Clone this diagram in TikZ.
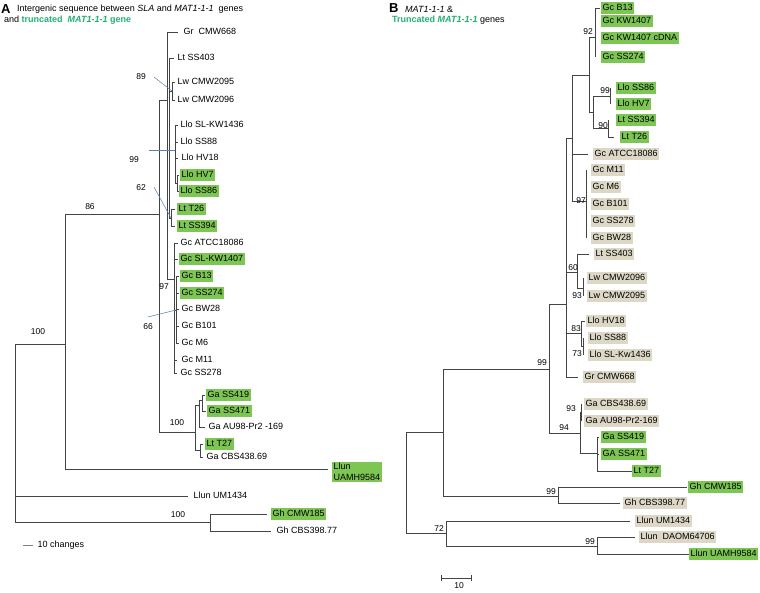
\documentclass[tikz,border=0pt]{standalone}
\usepackage{fontspec}
\setmainfont{Liberation Sans}
\definecolor{boxg}{HTML}{7DC653}
\definecolor{boxb}{HTML}{DDD8C6}
\definecolor{tgreen}{HTML}{22B070}
\definecolor{lnc}{HTML}{444444}
\definecolor{bluel}{HTML}{5582B8}
\tikzset{
 br/.style={draw=lnc, line width=0.65pt},
 lab/.style={anchor=west, inner xsep=1.5pt, inner ysep=1.4pt, font=\fontsize{9}{10}\selectfont, text height=6.6pt, text depth=1.8pt},
 gbox/.style={lab, fill=boxg},
 bbox/.style={lab, fill=boxb},
 bsv/.style={font=\fontsize{8.5}{9}\selectfont, inner sep=0pt},
 ptr/.style={draw=bluel, line width=0.5pt},
}
\newcommand{\tleaf}[6]{\coordinate (#1-t) at (#2,#3); \node[#6] (#1) at (#4,#3) {#5};}
\begin{document}
\begin{tikzpicture}[x=1pt,y=-1pt]
\useasboundingbox (0,0) rectangle (760,592);
% ---------------- titles
\node[anchor=west, inner sep=0pt, font=\fontsize{13}{13}\selectfont\bfseries] (tA) at (1,9) {A};
\node[anchor=west, inner sep=0pt, font=\fontsize{9}{10}\selectfont] (tA1) at (17,9) {Intergenic sequence between \textit{SLA} and \textit{MAT1-1-1}~ genes};
\node[anchor=west, inner sep=0pt, font=\fontsize{9}{10}\selectfont] (tA2) at (4,20) {and \textcolor{tgreen}{\bfseries truncated~ \textit{MAT1-1-1} gene}};
\node[anchor=west, inner sep=0pt, font=\fontsize{13}{13}\selectfont\bfseries] (tB) at (389,8) {B};
\node[anchor=west, inner sep=0pt, font=\fontsize{9}{10}\selectfont] (tB1) at (405,9) {\textit{MAT1-1-1} \&};
\node[anchor=west, inner sep=0pt, font=\fontsize{9}{10}\selectfont] (tB2) at (392,20) {\textcolor{tgreen}{\bfseries Truncated \textit{MAT1-1-1}} genes};
% ---------------- panel A internal nodes
\coordinate (rA) at (15,433);
\coordinate (a86) at (65,344);
\coordinate (aIn) at (159,214);
\coordinate (aTop) at (167,100);
\coordinate (aL) at (169,150);
\coordinate (aLw) at (172,91);
\coordinate (aLlo) at (175,150);
\coordinate (aLlo2) at (177,183);
\coordinate (aLt) at (171,218);
\coordinate (aG) at (174,279);
\coordinate (aG2) at (176,310);
\coordinate (aGa) at (195,432);
\coordinate (ag1) at (199,405);
\coordinate (ag2) at (202,400);
\coordinate (ag3) at (200,450);
\coordinate (aGh) at (210,522);
% panel A leaves
\tleaf{AGr}{178}{32}{182}{Gr~ CMW668}{lab}
\tleaf{ALt403}{174}{58}{176}{Lt SS403}{lab}
\tleaf{ALw95}{175}{82}{176}{Lw CMW2095}{lab}
\tleaf{ALw96}{175}{100}{176}{Lw CMW2096}{lab}
\tleaf{ALlo36}{178}{125}{179}{Llo SL-KW1436}{lab}
\tleaf{ALlo88}{178}{142}{179}{Llo SS88}{lab}
\tleaf{ALlo18}{178}{158}{180}{Llo HV18}{lab}
\tleaf{ALlo7}{179}{175}{180}{Llo HV7}{gbox}
\tleaf{ALlo86}{179}{191}{179}{Llo SS86}{gbox}
\tleaf{ALt26}{175}{209}{177}{Lt T26}{gbox}
\tleaf{ALt394}{175}{226}{177}{Lt SS394}{gbox}
\tleaf{AGcA}{178}{243}{179}{Gc ATCC18086}{lab}
\tleaf{AGcKW}{178}{259}{179}{Gc SL-KW1407}{gbox}
\tleaf{AGcB13}{179}{276}{180}{Gc B13}{gbox}
\tleaf{AGc274}{179}{293}{180}{Gc SS274}{gbox}
\tleaf{AGcBW}{179}{309}{180}{Gc BW28}{lab}
\tleaf{AGc101}{179}{326}{180}{Gc B101}{lab}
\tleaf{AGcM6}{179}{343}{180}{Gc M6}{lab}
\tleaf{AGcM11}{177}{360}{180}{Gc M11}{lab}
\tleaf{AGc278}{177}{373}{179}{Gc SS278}{lab}
\tleaf{AGa419}{205}{395}{206}{Ga SS419}{gbox}
\tleaf{AGa471}{206}{411}{207}{Ga SS471}{gbox}
\tleaf{AGaAU}{205}{427}{207}{Ga AU98-Pr2 -169}{lab}
\tleaf{ALtT27}{203}{444}{205}{Lt T27}{gbox}
\tleaf{AGaCBS}{203}{457}{205}{Ga CBS438.69}{lab}
\coordinate (AUAMH-t) at (328,469);
\node[anchor=west, fill=boxg, align=left, inner xsep=1.5pt, inner ysep=1.5pt, font=\fontsize{9}{11}\selectfont] (AUAMH) at (332,472) {Llun\\UAMH9584};
\tleaf{AUM}{188}{496}{192}{Llun UM1434}{lab}
\tleaf{AGh185}{267}{514}{271}{Gh CMW185}{gbox}
\tleaf{AGh398}{271}{531}{275}{Gh CBS398.77}{lab}
% panel A edges
\foreach \p/\c in {rA/a86, rA/AUM-t, rA/aGh, a86/aIn, a86/AUAMH-t, aIn/aTop, aIn/aGa,
  aTop/AGr-t, aTop/aL, aTop/aG, aL/ALt403-t, aL/aLw, aL/aLlo, aL/aLt,
  aLw/ALw95-t, aLw/ALw96-t, aLlo/ALlo36-t, aLlo/ALlo88-t, aLlo/ALlo18-t, aLlo/aLlo2,
  aLlo2/ALlo7-t, aLlo2/ALlo86-t, aLt/ALt26-t, aLt/ALt394-t,
  aG/AGcA-t, aG/AGcKW-t, aG/aG2, aG/AGcM11-t, aG/AGc278-t,
  aG2/AGcB13-t, aG2/AGc274-t, aG2/AGcBW-t, aG2/AGc101-t, aG2/AGcM6-t,
  aGa/ag1, aGa/ag3, ag1/ag2, ag1/AGaAU-t, ag2/AGa419-t, ag2/AGa471-t,
  ag3/ALtT27-t, ag3/AGaCBS-t, aGh/AGh185-t, aGh/AGh398-t}
  \draw[br] (\p) |- (\c);
% panel A bootstrap values
\node[bsv] (bsA100r) at (38,332) {100};
\node[bsv] (bsA86) at (90,207) {86};
\node[bsv] (bsA89) at (141,77) {89};
\node[bsv] (bsA99) at (134,160) {99};
\node[bsv] (bsA62) at (141,188) {62};
\node[bsv] (bsA97) at (164,287) {97};
\node[bsv] (bsA66) at (148,327) {66};
\node[bsv] (bsA100g) at (177,423) {100};
\node[bsv] (bsA100h) at (178,515) {100};
\draw[ptr] (bsA89) ++(13,0) -- (aLw);
\draw[ptr] (bsA99) ++(15,-10) -- (aLlo);
\draw[ptr] (bsA62) ++(13,-1) -- (aLt);
\draw[ptr] (bsA66) ++(0,-10) -- (aG2);
% scale A
\coordinate (sA1) at (23,545);
\coordinate (sA2) at (33,545);
\draw[draw=gray, line width=1pt] (sA1) -- (sA2);
\node[lab] (sAt) at (36,545) {10 changes};
% ---------------- panel B internal nodes
\coordinate (rB) at (406,482);
\coordinate (bU) at (443,432);
\coordinate (b72) at (446,533);
\coordinate (b99) at (549,369);
\coordinate (bGh) at (558,496);
\coordinate (bQ) at (566,304);
\coordinate (b94) at (580,433);
\coordinate (bP) at (572,138);
\coordinate (b60) at (577,272);
\coordinate (b83) at (581,333);
\coordinate (b89) at (589,75);
\coordinate (b97) at (586,201);
\coordinate (b92) at (595,37);
\coordinate (bLL) at (593,112);
\coordinate (b99L) at (610,96);
\coordinate (b90) at (608,128);
\coordinate (bLw) at (583,288);
\coordinate (b73) at (583,346);
\coordinate (b93) at (581,412);
\coordinate (bGa) at (597,453);
\coordinate (b99U) at (597,546);
% panel B leaves
\tleaf{BB13}{600}{8}{601}{Gc B13}{gbox}
\tleaf{BKW}{595}{21}{601}{Gc KW1407}{gbox}
\tleaf{BKWc}{595}{38}{601}{Gc KW1407 cDNA}{gbox}
\tleaf{B274}{595}{57}{601}{Gc SS274}{gbox}
\tleaf{BSS86}{610}{88}{616}{Llo SS86}{gbox}
\tleaf{BHV7}{610}{104}{616}{Llo HV7}{gbox}
\tleaf{BLt394}{608}{120}{616}{Lt SS394}{gbox}
\tleaf{BLtT26}{614}{137}{620}{Lt T26}{gbox}
\tleaf{BATCC}{588}{154}{593}{Gc ATCC18086}{bbox}
\tleaf{BM11}{586}{170}{591}{Gc M11}{bbox}
\tleaf{BM6}{586}{187}{591}{Gc M6}{bbox}
\tleaf{BB101}{586}{204}{591}{Gc B101}{bbox}
\tleaf{B278}{586}{221}{591}{Gc SS278}{bbox}
\tleaf{BBW}{586}{238}{591}{Gc BW28}{bbox}
\tleaf{BLt403}{589}{254}{594}{Lt SS403}{bbox}
\tleaf{BLw96}{583}{278}{587}{Lw CMW2096}{bbox}
\tleaf{BLw95}{583}{296}{587}{Lw CMW2095}{bbox}
\tleaf{BHV18}{585}{321}{586}{Llo HV18}{bbox}
\tleaf{BSS88}{583}{338}{588}{Llo SS88}{bbox}
\tleaf{BSL}{583}{355}{588}{Llo SL-Kw1436}{bbox}
\tleaf{BGr}{578}{377}{583}{Gr CMW668}{bbox}
\tleaf{BCBS}{581}{404}{584}{Ga CBS438.69}{bbox}
\tleaf{BAU}{581}{421}{584}{Ga AU98-Pr2-169}{bbox}
\tleaf{B419}{599}{437}{601}{Ga SS419}{gbox}
\tleaf{B471}{599}{454}{601}{GA SS471}{gbox}
\tleaf{BT27}{632}{471}{632}{Lt T27}{gbox}
\tleaf{BGh185}{687}{487}{688}{Gh CMW185}{gbox}
\tleaf{BGh398}{620}{503}{623}{Gh CBS398.77}{bbox}
\tleaf{BUM}{630}{521}{635}{Llun UM1434}{bbox}
\tleaf{BDAOM}{635}{537}{639}{Llun~ DAOM64706}{bbox}
\tleaf{BUAMH}{689}{554}{689}{Llun UAMH9584}{gbox}
% panel B edges
\foreach \p/\c in {rB/bU, rB/b72, bU/b99, bU/bGh, b99/bQ, b99/b94,
  bQ/bP, bQ/b60, bQ/b83, bQ/BGr-t, bP/b89, bP/BATCC-t, bP/b97,
  b89/b92, b89/bLL, b92/BB13-t, b92/BKW-t, b92/BKWc-t, b92/B274-t,
  bLL/b99L, bLL/b90, b99L/BSS86-t, b99L/BHV7-t, b90/BLt394-t, b90/BLtT26-t,
  b97/BM11-t, b97/BM6-t, b97/BB101-t, b97/B278-t, b97/BBW-t,
  b60/BLt403-t, b60/bLw, bLw/BLw96-t, bLw/BLw95-t,
  b83/BHV18-t, b83/b73, b73/BSS88-t, b73/BSL-t,
  b94/b93, b94/bGa, b93/BCBS-t, b93/BAU-t, bGa/B419-t, bGa/B471-t, bGa/BT27-t,
  bGh/BGh185-t, bGh/BGh398-t, b72/BUM-t, b72/b99U, b99U/BDAOM-t, b99U/BUAMH-t}
  \draw[br] (\p) |- (\c);
% panel B bootstrap values
\node[bsv] (bsB92) at (588,32) {92};
\node[bsv] (bsB99l) at (605,91) {99};
\node[bsv] (bsB90) at (603,126) {90};
\node[bsv] (bsB97) at (581,201) {97};
\node[bsv] (bsB60) at (573,268) {60};
\node[bsv] (bsB93w) at (577,296) {93};
\node[bsv] (bsB83) at (576,329) {83};
\node[bsv] (bsB73) at (577,354) {73};
\node[bsv] (bsB99) at (542,363) {99};
\node[bsv] (bsB93g) at (571,409) {93};
\node[bsv] (bsB94) at (564,428) {94};
\node[bsv] (bsB99h) at (551,492) {99};
\node[bsv] (bsB72) at (439,529) {72};
\node[bsv] (bsB99u) at (590,542) {99};
% scale B
\coordinate (sB1) at (441,578);
\coordinate (sB2) at (472,578);
\draw[br, {|-|}] (sB1) -- (sB2);
\node[bsv] (sBt) at (459,586) {10};
\end{tikzpicture}
\end{document}
